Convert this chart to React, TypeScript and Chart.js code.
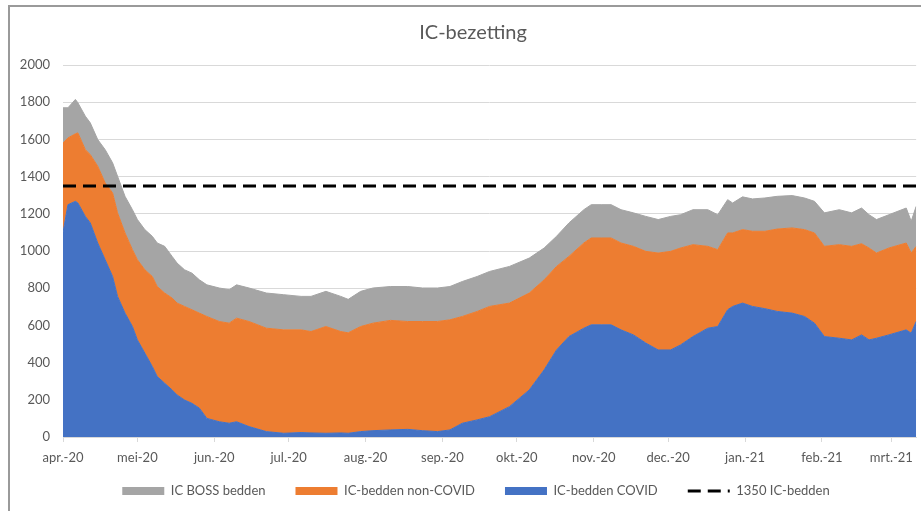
import React, { useEffect, useRef } from "react";
import { Chart, registerables } from "chart.js";

Chart.register(...registerables);

// Day offsets from 1 april 2020
const days = [0,2,5,6,9,11,14,17,20,22,25,28,30,33,36,38,41,44,46,49,52,55,58,63,67,70,75,82,89,96,100,106,112,115,120,125,132,139,145,151,156,161,167,172,180,188,194,199,204,210,213,217,221,225,230,235,240,245,249,254,260,264,268,270,274,278,283,288,294,299,303,307,313,318,322,325,328,333,340,342,344];

const covidBeds = [1100,1249,1267,1258,1186,1151,1043,953,863,756,666,594,522,451,379,325,289,253,226,199,181,155,100,82,74,82,56,29,20,24,22,20,22,20,29,34,38,41,34,29,38,74,92,109,163,253,361,468,540,585,603,603,603,576,549,505,468,468,495,540,585,594,684,702,720,702,690,675,666,648,612,540,531,522,549,522,531,549,576,558,621];

const nonCovidBeds = [480,359,363,377,359,367,413,413,449,449,431,413,431,448,484,484,485,494,494,503,503,511,548,539,538,557,565,556,556,552,545,574,545,540,565,578,589,580,587,592,592,574,583,593,557,521,484,449,431,458,467,467,467,467,476,493,521,530,521,494,440,413,413,395,395,404,416,443,458,467,485,485,503,503,490,494,458,467,467,431,404];

const bossBeds = [190,162,185,162,180,171,143,179,162,197,197,215,216,216,216,234,251,224,215,197,197,179,170,180,180,179,180,189,189,180,189,189,189,180,189,189,182,188,180,180,179,188,188,188,197,188,171,162,180,179,179,179,179,179,180,188,180,188,179,188,197,188,179,161,176,174,179,176,174,170,170,180,188,180,192,179,180,179,188,171,215];

const capacity = 1350;

const monthStarts = [0, 30, 61, 91, 122, 153, 183, 214, 244, 275, 306, 334];
const monthLabels = ["apr.-20","mei-20","jun.-20","jul.-20","aug.-20","sep.-20","okt.-20","nov.-20","dec.-20","jan.-21","feb.-21","mrt.-21"];

const yTicks = [0, 200, 400, 600, 800, 1000, 1200, 1400, 1600, 1800, 2000];

const seriesLabels = ["IC-bedden COVID", "IC-bedden non-COVID", "IC BOSS bedden", "1350 IC-bedden"];
const chartTitle = "IC-bezetting";

const BLUE = "#4472C4";
const ORANGE = "#ED7D31";
const GRAY = "#A5A5A5";
const TEXT = "#595959";
const GRID = "#D9D9D9";

const LEGEND_ROW_Y = 491;

const boxPlacer = {
  id: "boxPlacer",
  afterLayout(chart: any) {
    const lg = chart.legend;
    if (lg) {
      const pad = lg.options.labels.padding;
      const fs = 13;
      const h = lg.bottom - lg.top;
      lg.top = LEGEND_ROW_Y - pad - fs / 2;
      lg.bottom = lg.top + h;
      lg.left = 35;
      lg.width = lg.right - lg.left;
    }
    const tt = chart.titleBlock;
    if (tt) {
      tt.left = 29;
      tt.width = tt.right - tt.left;
    }
  },
};

export default function App() {
  const ref = useRef<HTMLCanvasElement | null>(null);

  useEffect(() => {
    if (!ref.current) return;
    Chart.defaults.font.family = "Lato, 'Open Sans', sans-serif";
    const xEnd = days[days.length - 1];
    const toPts = (arr: number[]) => days.map((d, i) => ({ x: d, y: arr[i] }));
    const chart = new Chart(ref.current, {
      type: "line",
      plugins: [boxPlacer],
      data: {
        datasets: [
          {
            label: seriesLabels[0],
            data: toPts(covidBeds),
            backgroundColor: BLUE,
            borderColor: BLUE,
            borderWidth: 1,
            pointRadius: 0,
            fill: "origin",
            stack: "beds",
            tension: 0,
          },
          {
            label: seriesLabels[1],
            data: toPts(nonCovidBeds),
            backgroundColor: ORANGE,
            borderColor: ORANGE,
            borderWidth: 1,
            pointRadius: 0,
            fill: "-1",
            stack: "beds",
            tension: 0,
          },
          {
            label: seriesLabels[2],
            data: toPts(bossBeds),
            backgroundColor: GRAY,
            borderColor: GRAY,
            borderWidth: 1,
            pointRadius: 0,
            fill: "-1",
            stack: "beds",
            tension: 0,
          },
          {
            label: seriesLabels[3],
            data: [
              { x: days[0], y: capacity },
              { x: xEnd, y: capacity },
            ],
            borderColor: "#000000",
            backgroundColor: "#000000",
            borderWidth: 3,
            borderDash: [13, 7],
            pointRadius: 0,
            fill: false,
            stack: "cap",
            order: -1,
          },
        ],
      },
      options: {
        animation: false,
        responsive: false,
        devicePixelRatio: 1,
        layout: { padding: { left: 15, right: 4, top: 20, bottom: 3 } },
        scales: {
          x: {
            type: "linear",
            min: 0,
            max: xEnd,
            afterBuildTicks: (scale: any) => {
              scale.ticks = monthStarts.map((v) => ({ value: v }));
            },
            afterFit: (scale: any) => {
              scale.height = 18;
              scale._computeLabelArea = () => undefined;
            },
            ticks: {
              autoSkip: false,
              maxRotation: 0,
              minRotation: 0,
              padding: 8,
              color: TEXT,
              font: { size: 13 },
              callback: (v: any) => {
                const i = monthStarts.indexOf(Number(v));
                return i >= 0 ? monthLabels[i] : "";
              },
            },
            grid: {
              drawOnChartArea: false,
              drawTicks: true,
              tickLength: 5,
              color: GRID,
            },
            border: { display: true, color: GRID },
          },
          y: {
            stacked: true,
            min: 0,
            max: 2000,
            afterBuildTicks: (scale: any) => {
              scale.ticks = yTicks.map((v) => ({ value: v }));
            },
            afterFit: (scale: any) => {
              scale.width = 48;
            },
            ticks: {
              padding: 13,
              color: TEXT,
              font: { size: 13 },
              callback: (v: any) => String(v),
            },
            grid: { color: GRID, drawTicks: false },
            border: { display: false },
          },
        },
        plugins: {
          tooltip: { enabled: false },
          title: {
            display: true,
            text: chartTitle,
            color: TEXT,
            font: { size: 20, weight: "normal" },
            padding: { top: 1, bottom: 20 },
          },
          legend: {
            display: true,
            position: "bottom",
            labels: {
              usePointStyle: true,
              pointStyleWidth: 42,
              boxHeight: 8,
              padding: 30,
              color: TEXT,
              font: { size: 13 },
              generateLabels: (c: any) => {
                const ds = c.data.datasets;
                return [2, 1, 0, 3].map((i) => {
                  const d = ds[i];
                  const isLine = i === 3;
                  return {
                    text: d.label,
                    fillStyle: isLine ? "rgba(0,0,0,0)" : d.backgroundColor,
                    strokeStyle: isLine ? d.borderColor : d.backgroundColor,
                    lineWidth: isLine ? 3 : 0,
                    lineDash: isLine ? [13, 7] : [],
                    pointStyle: isLine ? "line" : "rect",
                    datasetIndex: i,
                    hidden: false,
                    fontColor: TEXT,
                  };
                });
              },
            },
          },
        },
      } as any,
    });
    return () => chart.destroy();
  }, []);

  return (
    <div style={{ position: "absolute", left: 0, top: 0, width: 921, height: 511, background: "#fff" }}>
      <canvas ref={ref} width={921} height={511} style={{ position: "absolute", left: 0, top: 0, width: 921, height: 511 }} />
      <div
        style={{
          position: "absolute",
          left: 8,
          top: 5,
          right: 0,
          bottom: 0,
          borderLeft: "2px solid #9a9a9a",
          borderTop: "2px solid #9a9a9a",
          pointerEvents: "none",
        }}
      />
    </div>
  );
}
